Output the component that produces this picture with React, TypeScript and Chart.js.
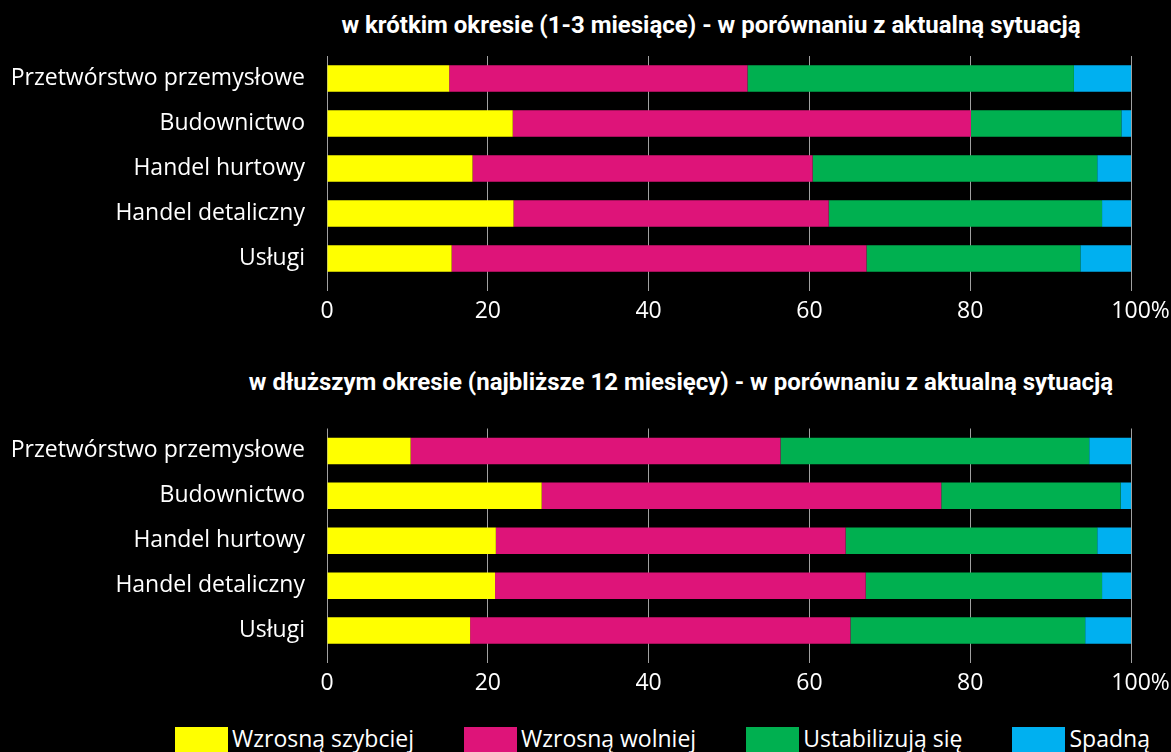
import React, { useEffect, useRef } from "react";
import { Chart, registerables } from "chart.js";

Chart.register(...registerables);

const categories = [
  "Przetwórstwo przemysłowe",
  "Budownictwo",
  "Handel hurtowy",
  "Handel detaliczny",
  "Usługi",
];
const seriesNames = ["Wzrosną szybciej", "Wzrosną wolniej", "Ustabilizują się", "Spadną"];
const seriesColors = ["#FFFF00", "#DE1479", "#00B050", "#00B0F0"];

const shortFaster = [15.2, 23.1, 18.1, 23.2, 15.5];
const shortSlower = [37.1, 57.0, 42.3, 39.2, 51.6];
const shortStable = [40.6, 18.7, 35.4, 34.0, 26.6];
const shortFall = [7.1, 1.2, 4.2, 3.6, 6.3];

const longFaster = [10.4, 26.7, 21.0, 20.9, 17.8];
const longSlower = [46.0, 49.7, 43.5, 46.1, 47.3];
const longStable = [38.4, 22.3, 31.3, 29.4, 29.2];
const longFall = [5.2, 1.3, 4.2, 3.6, 5.7];

const xTicks = [0, 20, 40, 60, 80, 100];

const titleShort = "w krótkim okresie (1-3 miesiące) - w porównaniu z aktualną sytuacją";
const titleLong = "w dłuższym okresie (najbliższe 12 miesięcy) - w porównaniu z aktualną sytuacją";

const FONT = "'Open Sans', 'Noto Sans', sans-serif";
const FONT_SIZE = 23;

function StackedChart(props: { series: number[][]; top: number; height: number; padTop: number }) {
  const ref = useRef<HTMLCanvasElement | null>(null);
  useEffect(() => {
    if (!ref.current) return;
    const chart = new Chart(ref.current, {
      type: "bar",
      data: {
        labels: categories,
        datasets: props.series.map((vals, i) => ({
          label: seriesNames[i],
          data: vals,
          backgroundColor: seriesColors[i],
          borderWidth: 0,
          categoryPercentage: 1,
          barPercentage: 0.59,
        })),
      },
      options: {
        indexAxis: "y",
        responsive: false,
        animation: false,
        devicePixelRatio: 1,
        layout: { padding: { top: props.padTop, right: 40, left: 0, bottom: 0 } },
        plugins: { legend: { display: false }, title: { display: false }, tooltip: { enabled: false } },
        scales: {
          x: {
            stacked: true,
            min: 0,
            max: 100,
            afterBuildTicks: (s: any) => {
              s.ticks = xTicks.map((v) => ({ value: v }));
            },
            afterFit: (s: any) => {
              s.height = 59;
              s.paddingLeft = 0;
              s.paddingRight = 0;
            },
            border: { display: false },
            grid: { color: "#a0a0a0", lineWidth: 1, tickLength: 10, drawTicks: true },
            ticks: {
              color: "#ffffff",
              font: { family: FONT, size: FONT_SIZE },
              padding: 7,
              maxRotation: 0,
              autoSkip: false,
              callback: (v: any) => (Number(v) === 100 ? "\u2007 100%" : String(v)),
            },
          },
          y: {
            stacked: true,
            afterFit: (s: any) => {
              s.width = 327;
            },
            border: { display: false },
            grid: { display: false, drawTicks: false },
            ticks: {
              color: "#ffffff",
              font: { family: FONT, size: FONT_SIZE },
              padding: 22,
            },
          },
        },
      },
    });
    return () => chart.destroy();
  }, []);
  return (
    <canvas
      ref={ref}
      width={1171}
      height={props.height}
      style={{ position: "absolute", left: 0, top: props.top, width: 1171, height: props.height }}
    />
  );
}

function Title(props: { text: string; cx: number; cy: number }) {
  return (
    <div
      style={{
        position: "absolute",
        left: props.cx - 500,
        width: 1000,
        top: props.cy - 16,
        height: 32,
        lineHeight: "32px",
        textAlign: "center",
        color: "#fff",
        fontFamily: "Roboto, sans-serif",
        fontWeight: 700,
        fontSize: 24,
        whiteSpace: "nowrap",
      }}
    >
      {props.text}
    </div>
  );
}

export default function App() {
  useEffect(() => {
    document.body.style.margin = "0";
    document.body.style.background = "#000";
    document.body.style.overflow = "hidden";
  }, []);
  return (
    <div style={{ position: "relative", width: 1171, height: 752, background: "#000", overflow: "hidden" }}>
      <Title text={titleShort} cx={711} cy={25} />
      <StackedChart series={[shortFaster, shortSlower, shortStable, shortFall]} top={0} height={340} padTop={56} />
      <Title text={titleLong} cx={681} cy={382} />
      <StackedChart series={[longFaster, longSlower, longStable, longFall]} top={340} height={372} padTop={88.5} />
      <div
        style={{
          position: "absolute",
          left: 175,
          top: 727,
          display: "flex",
          gap: 50,
          fontFamily: FONT,
          fontSize: FONT_SIZE,
          color: "#fff",
          whiteSpace: "nowrap",
        }}
      >
        {seriesNames.map((n, i) => (
          <div key={n} style={{ display: "flex", alignItems: "flex-start" }}>
            <div style={{ width: 53, height: 26, background: seriesColors[i], marginRight: 4 }} />
            <span style={{ lineHeight: "22px" }}>{n}</span>
          </div>
        ))}
      </div>
    </div>
  );
}
